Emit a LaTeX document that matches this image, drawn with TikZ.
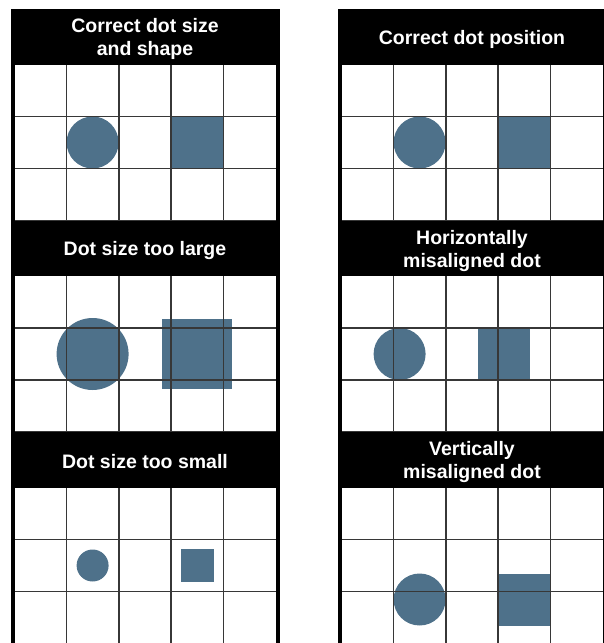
\documentclass[tikz,border=0pt]{standalone}
\usepackage{fontspec}
\setmainfont{Liberation Sans}
\usetikzlibrary{positioning}

\definecolor{dotblue}{RGB}{78,113,138}
\definecolor{gridgray}{RGB}{55,55,55}

\tikzset{
  heading/.style={text=white, font=\bfseries\fontsize{19.5}{23}\selectfont,
    align=center, inner sep=0pt},
  headbar/.style={fill=black},
  gridline/.style={draw=gridgray, line width=1.6pt},
  dot/.style={fill=dotblue}
}

\begin{document}
\begin{tikzpicture}[x=1pt,y=-1pt]
\useasboundingbox (0,0) rectangle (604,643);

% one panel per entry: left, top, title, circle radius, square half side, shift x, shift y
\foreach \px/\py/\title/\r/\s/\dx/\dy [count=\i] in {
    14/9/{Correct dot size\\and shape}/26/26/0/0,
    14/220.5/{Dot size too large}/36/35/0/0,
    14/432/{Dot size too small}/16/16.5/0/0,
    341/9/{Correct dot position}/26/26/0/0,
    341/220.5/{Horizontally\\misaligned dot}/26/26/-20/0,
    341/432/{Vertically\\misaligned dot}/26/26/0/34}{
  % dots first, the grid goes over them
  \fill[dot] (\px+78.6+\dx, \py+133.5+\dy) circle[radius=\r pt];
  \fill[dot] (\px+183.4+\dx-\s, \py+133.5+\dy-\s) rectangle ++(2*\s, 2*\s);
  \foreach \k in {1,...,4}
    \draw[gridline] (\px+\k*52.4, \py+55.5) -- ++(0,156);
  \foreach \k in {1,2,3}
    \draw[gridline] (\px, \py+55.5+\k*52) -- ++(262,0);
  % header and side borders
  \fill[headbar] (\px-3,\py) rectangle ++(268,55.5);
  \fill[headbar] (\px-3,\py) rectangle ++(3.5,211.5);
  \fill[headbar] (\px+262,\py) rectangle ++(3.5,211.5);
  \node[heading] (title\i) at (\px+131, \py+30) {\title};
}
\end{tikzpicture}
\end{document}
